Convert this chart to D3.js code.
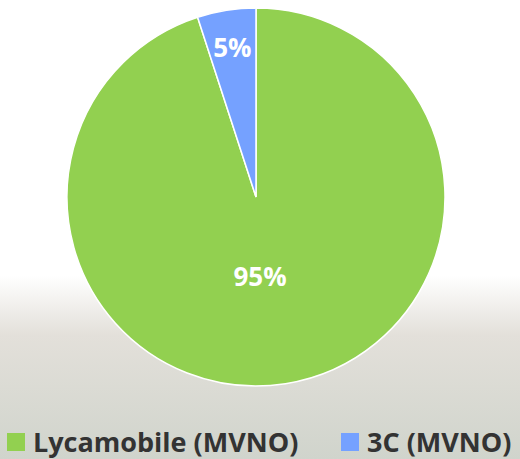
<!DOCTYPE html>
<html>
<head>
<meta charset="utf-8">
<script src="https://cdn.jsdelivr.net/npm/d3@7"></script>
<style>
  html, body { margin: 0; padding: 0; }
  body { width: 520px; height: 459px; overflow: hidden; }
</style>
</head>
<body>
<div id="chart"></div>
<script>
// data
var categories = ["Lycamobile (MVNO)", "3C (MVNO)"];
var values = [95, 5];
var colors = ["#92d050", "#75a1ff"];

var width = 520, height = 459;
var cx = 256, cy = 197, radius = 189;

var svg = d3.select("#chart")
  .append("svg")
    .attr("width", width)
    .attr("height", height);

// background fade at the bottom
var grad = svg.append("defs").append("linearGradient")
    .attr("id", "bg")
    .attr("x1", 0).attr("y1", 0).attr("x2", 0).attr("y2", 1);
grad.append("stop").attr("offset", "0.6").attr("stop-color", "#ffffff");
grad.append("stop").attr("offset", "0.73").attr("stop-color", "#e3e0da");
grad.append("stop").attr("offset", "1").attr("stop-color", "#d0d4cc");

svg.append("rect")
    .attr("width", width)
    .attr("height", height)
    .attr("fill", "url(#bg)");

var data = categories.map(function(c, i) { return {name: c, value: values[i], color: colors[i]}; });

// first slice clockwise from 12 o'clock, the small one ends back at the top
var pie = d3.pie()
    .value(function(d) { return d.value; })
    .sort(null);

var arc = d3.arc().innerRadius(0).outerRadius(radius);

var g = svg.append("g")
    .attr("transform", "translate(" + cx + "," + cy + ")");

var arcs = pie(data);

g.selectAll("path")
  .data(arcs)
  .join("path")
    .attr("d", arc)
    .attr("fill", function(d) { return d.data.color; })
    .attr("stroke", "#ffffff")
    .attr("stroke-width", 1.5);

// label positions (big slice label sits almost straight below the centre)
var labelPos = [
  function(d) { return [4, 80]; },
  function(d) { return d3.arc().innerRadius(radius * 0.8).outerRadius(radius * 0.8).centroid(d); }
];

g.selectAll("text")
  .data(arcs)
  .join("text")
    .attr("transform", function(d, i) { return "translate(" + labelPos[i](d) + ")"; })
    .attr("text-anchor", "middle")
    .attr("dy", "0.35em")
    .attr("font-family", "Open Sans, sans-serif")
    .attr("font-weight", "bold")
    .attr("font-size", 26)
    .attr("fill", "#ffffff")
    .text(function(d) { return d.data.value + "%"; });

// legend
var legendX = [7, 341];
var legend = svg.append("g")
  .selectAll("g")
  .data(data)
  .join("g")
    .attr("transform", function(d, i) { return "translate(" + legendX[i] + ",433)"; });

legend.append("rect")
    .attr("width", 18)
    .attr("height", 18)
    .attr("fill", function(d) { return d.color; });

legend.append("text")
    .attr("x", 26)
    .attr("y", 19)
    .attr("font-family", "Open Sans, sans-serif")
    .attr("font-weight", "bold")
    .attr("font-size", 27)
    .attr("fill", "#333333")
    .text(function(d) { return d.name; });
</script>
</body>
</html>
